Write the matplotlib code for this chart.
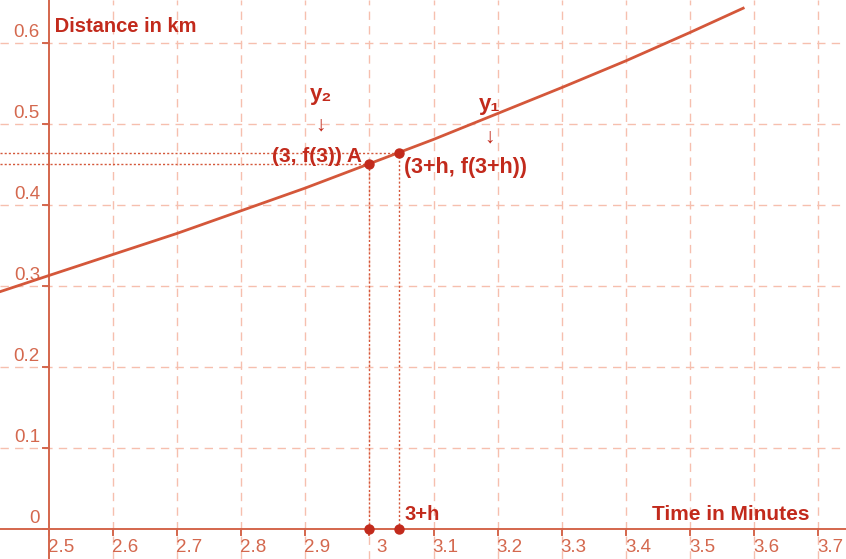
import numpy as np
import matplotlib
matplotlib.use("Agg")
import matplotlib.pyplot as plt

plt.rcParams['font.family'] = ['Liberation Sans', 'DejaVu Sans']

# 曲线上读出的点 (时间, 距离)
time_pts = [2.4236, 2.5, 2.6, 2.7, 2.8, 2.9, 3.0, 3.1, 3.2, 3.3, 3.4, 3.5, 3.583]
dist_pts = [0.293, 0.313, 0.339, 0.365, 0.393, 0.421, 0.451, 0.481, 0.513, 0.545, 0.578, 0.613, 0.643]

# 两个标记点 A 与 3+h
pt_x = [3.0, 3.046]
pt_y = [0.451, 0.464]

x_ticks = [2.5, 2.6, 2.7, 2.8, 2.9, 3.0, 3.1, 3.2, 3.3, 3.4, 3.5, 3.6, 3.7]
x_labels = ['2.5', '2.6', '2.7', '2.8', '2.9', '3', '3.1', '3.2', '3.3', '3.4', '3.5', '3.6', '3.7']
y_ticks = [0.0, 0.1, 0.2, 0.3, 0.4, 0.5, 0.6]
y_labels = ['0', '0.1', '0.2', '0.3', '0.4', '0.5', '0.6']

DARK = '#c22a1c'
CURVE = '#d4573a'
GRID = '#f6bfae'
AXIS = '#d4664c'
TICKTXT = '#d4684e'

fig = plt.figure(figsize=(8.46, 5.59), dpi=100)
ax = fig.add_axes([0, 0, 1, 1])
ax.set_xlim(2.4236, 3.7434)
ax.set_ylim(-0.0370, 0.6531)
ax.axis('off')

# 网格
for xv in x_ticks[1:]:
    ax.axvline(xv, color=GRID, lw=1.0, ls=(0, (6, 4.5)), zorder=1)
for yv in y_ticks[1:]:
    ax.axhline(yv, color=GRID, lw=1.0, ls=(0, (6, 4.5)), zorder=1)

# 坐标轴
ax.axhline(0, color=AXIS, lw=1.4, zorder=2)
ax.axvline(2.5, color=AXIS, lw=1.4, zorder=2)

# 刻度线和刻度标签
for xv, lab in zip(x_ticks, x_labels):
    ax.plot([xv, xv], [0, -0.007], color=AXIS, lw=1.4, zorder=2)
    ax.annotate(lab, xy=(xv, 0), xytext=(12, -18), textcoords='offset pixels',
                ha='center', va='center', fontsize=13.5, color=TICKTXT)
for yv, lab in zip(y_ticks, y_labels):
    ax.plot([2.5, 2.4905], [yv, yv], color=AXIS, lw=1.4, zorder=2)
    ax.annotate(lab, xy=(2.5, yv), xytext=(-9, 11), textcoords='offset pixels',
                ha='right', va='center', fontsize=13.5, color=TICKTXT)

# 曲线
ax.plot(time_pts, dist_pts, color=CURVE, lw=2.0, zorder=3)

# 虚线辅助线
for px, py in zip(pt_x, pt_y):
    ax.plot([ax.get_xlim()[0], px], [py, py], color=CURVE, lw=1.0, ls=(0, (1.5, 1.5)), zorder=2)
    ax.plot([px, px], [0, py], color=CURVE, lw=1.0, ls=(0, (1.5, 1.5)), zorder=2)

ax.scatter(pt_x, pt_y, s=42, color=DARK, zorder=5)
ax.scatter(pt_x, [0, 0], s=42, color=DARK, zorder=5)

# 文字
ax.text(2.5, 0.620, ' Distance in km', color=DARK, fontsize=14.5, fontweight='bold',
        ha='left', va='center')
ax.text(3.687, 0.018, 'Time in Minutes', color=DARK, fontsize=15, fontweight='bold',
        ha='right', va='center')
ax.text(3.055, 0.018, '3+h', color=DARK, fontsize=14.5, fontweight='bold',
        ha='left', va='center')
ax.text(2.989, 0.460, '(3, f(3)) A', color=DARK, fontsize=15, fontweight='bold',
        ha='right', va='center')
ax.text(3.054, 0.446, '(3+h, f(3+h))', color=DARK, fontsize=15.5, fontweight='bold',
        ha='left', va='center')
ax.text(2.924, 0.536, 'y₂', color=DARK, fontsize=16, fontweight='bold', ha='center', va='center')
ax.text(2.924, 0.499, '↓', color=DARK, fontsize=15, ha='center', va='center')
ax.text(3.187, 0.524, 'y₁', color=DARK, fontsize=16, fontweight='bold', ha='center', va='center')
ax.text(3.187, 0.484, '↓', color=DARK, fontsize=15, ha='center', va='center')

fig.savefig('out.png', dpi=100)
